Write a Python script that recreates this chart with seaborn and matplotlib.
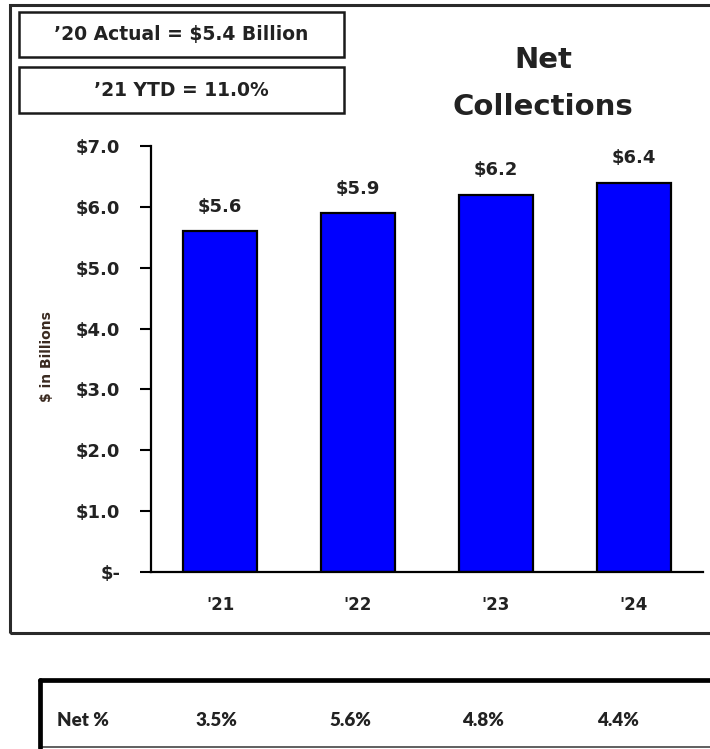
import matplotlib
matplotlib.use("Agg")
import matplotlib.pyplot as plt
from matplotlib.patches import Rectangle
from matplotlib.lines import Line2D
import seaborn as sns
import pandas as pd

# Net collections by year ($ billions)
years = ["'21", "'22", "'23", "'24"]
collections = [5.6, 5.9, 6.2, 6.4]
net_pct = ["3.5%", "5.6%", "4.8%", "4.4%"]
y_ticks = [0, 1, 2, 3, 4, 5, 6, 7]
header_notes = ["\u201920 Actual = $5.4 Billion", "\u201921 YTD = 11.0%"]
title_lines = ["Net", "Collections"]

sns.set_theme(style="white")
plt.rcParams["font.family"] = ["DejaVu Sans"]
plt.rcParams["font.weight"] = "bold"

TXT = "#222222"
W, H = 710, 749

fig = plt.figure(figsize=(W / 100, H / 100), dpi=100)


def fx(px):
    return px / W


def fy(py):
    return 1 - py / H


ax = fig.add_axes([fx(151), fy(572), fx(703) - fx(151), fy(146) - fy(572)])

df = pd.DataFrame({"year": years, "value": collections})
sns.barplot(data=df, x="year", y="value", color="#0000FF", saturation=1,
            edgecolor="black", linewidth=1.6, width=0.53, ax=ax)
for patch in ax.patches:
    patch.set_facecolor("#0000FF")

ax.bar_label(ax.containers[0], labels=[f"${v:.1f}" for v in collections],
             padding=11, fontsize=13, fontweight="bold", color=TXT)

ax.set_ylim(0, 7)
ax.set_xlim(-0.5, len(years) - 0.5)
ax.set_yticks(y_ticks)
ax.set_yticklabels(["$-" if t == 0 else f"${t:.1f}" for t in y_ticks])
ax.set_xlabel("")
ax.set_ylabel("")
ax.tick_params(axis="y", length=8, width=1.5, color="black", pad=14,
               labelsize=13, labelcolor=TXT, left=True)
ax.tick_params(axis="x", length=0, pad=17, labelsize=12, labelcolor=TXT)
for lbl in ax.get_xticklabels() + ax.get_yticklabels():
    lbl.set_fontweight("bold")
for side in ("top", "right"):
    ax.spines[side].set_visible(False)
for side in ("left", "bottom"):
    ax.spines[side].set_color("black")
    ax.spines[side].set_linewidth(1.6)

fig.text(fx(47), fy(357), "$ in Billions", rotation=90, ha="center",
         va="center", fontsize=10, fontweight="bold", color="#3a2a20")

# outer chart frame
fig.add_artist(Rectangle((fx(10), fy(633)), fx(800) - fx(10), fy(5) - fy(633),
                         transform=fig.transFigure, fill=False,
                         edgecolor="#2a2a2a", linewidth=2.2))

# header note boxes
for (top, bot), note in zip([(12, 57), (67, 113)], header_notes):
    fig.add_artist(Rectangle((fx(19), fy(bot)), fx(344) - fx(19), fy(top) - fy(bot),
                             transform=fig.transFigure, fill=False,
                             edgecolor="#1a1a1a", linewidth=1.8))
    fig.text(fx(181.5), fy((top + bot) / 2), note, ha="center", va="center",
             fontsize=13.5, fontweight="bold", color=TXT)

# title
for yy, line in zip([60, 107], title_lines):
    fig.text(fx(543), fy(yy), line, ha="center", va="center",
             fontsize=21, fontweight="bold", color=TXT)

# Net % row
row_font = ["Lato", "DejaVu Sans"]
fig.add_artist(Rectangle((fx(40), fy(747)), fx(800) - fx(40), fy(680) - fy(747),
                         transform=fig.transFigure, fill=False,
                         edgecolor="#444444", linewidth=1.2))
fig.add_artist(Line2D([fx(40), fx(800)], [fy(680), fy(680)],
                      transform=fig.transFigure, color="black", linewidth=3.4))
fig.add_artist(Line2D([fx(40), fx(40)], [fy(680), fy(748)],
                      transform=fig.transFigure, color="black", linewidth=3.4))
fig.text(fx(57), fy(720), "Net %", ha="left", va="center", family=row_font,
         fontsize=13.5, fontweight="heavy", color=TXT)
for xc, pct in zip([216, 350, 483, 618], net_pct):
    fig.text(fx(xc), fy(720), pct, ha="center", va="center", family=row_font,
             fontsize=13.5, fontweight="heavy", color=TXT)

fig.savefig("out.png", dpi=100)
